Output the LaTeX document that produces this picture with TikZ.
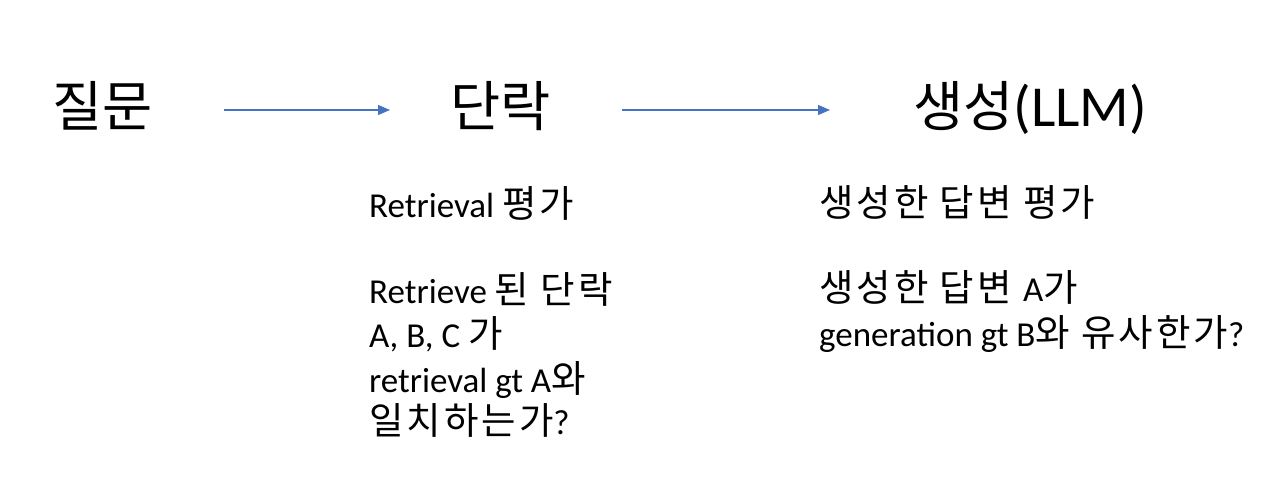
\documentclass[tikz,border=0pt]{standalone}
\usepackage{fontspec}
\setmainfont{Carlito}
\newfontfamily\krt[Scale=0.94]{Noto Sans CJK KR}
\newfontfamily\kr[Scale=1.07,LetterSpace=8]{Noto Sans CJK KR}
\usetikzlibrary{arrows.meta}
\definecolor{arrowblue}{HTML}{4472C4}
\begin{document}
\begin{tikzpicture}[x=1pt,y=-1pt,
  body/.style={anchor=base west,inner sep=0pt,font=\fontsize{35}{42}\selectfont},
  title/.style={anchor=base west,inner sep=0pt,font=\fontsize{58}{70}\selectfont},
  flow/.style={draw=arrowblue,line width=1.2pt,-{Triangle[length=12pt,width=10pt]}}]
\useasboundingbox (0,0) rectangle (1276,487);
\node[title] (q) at (52,126) {\krt 질문};
\node[title] (p) at (450,126) {\krt 단락};
\node[title] (g) at (913,126) {{\krt 생성}(LLM)};
\coordinate (a1s) at (224,110);
\coordinate (a1e) at (390,110);
\coordinate (a2s) at (622,110);
\coordinate (a2e) at (830,110);
\draw[flow] (a1s) -- (a1e);
\draw[flow] (a2s) -- (a2e);
\node[body] (r1) at (369,217) {Retrieval {\kr 평가}};
\node[body] (r2) at (369,303) {Retrieve {\kr 된 단락}};
\node[body] (r3) at (369,347) {A, B, C {\kr 가}};
\node[body] (r4) at (369,392) {retrieval gt A{\kr 와}};
\node[body] (r5) at (369,434) {{\kr 일치하는가}?};
\node[body] (s1) at (819,216) {\kr 생성한 답변 평가};
\node[body] (s2) at (819,301) {{\kr 생성한 답변 }A{\kr 가}};
\node[body] (s3) at (819,346) {generation gt B{\kr 와 유사한가}?};
\end{tikzpicture}
\end{document}
